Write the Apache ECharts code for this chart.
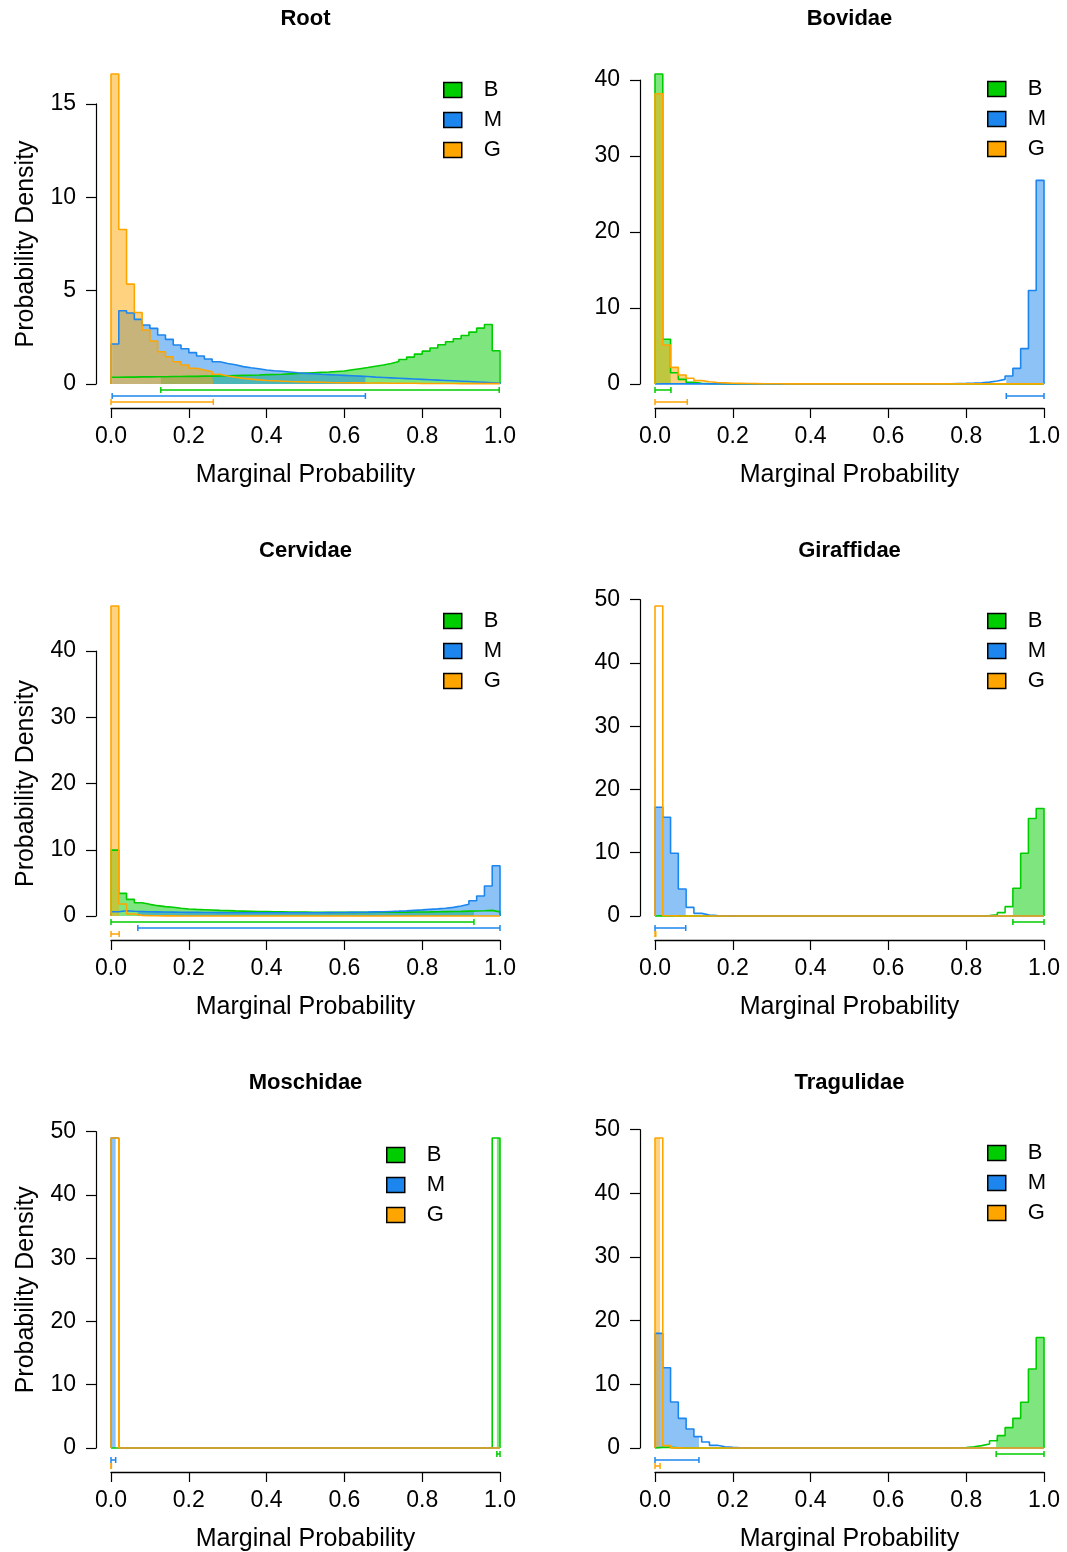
<!DOCTYPE html>
<html><head><meta charset="utf-8">
<script src="https://cdn.jsdelivr.net/npm/echarts@6/dist/echarts.min.js"></script>
<style>html,body{margin:0;padding:0;background:#fff}#c{width:1067px;height:1552px}</style>
</head><body><div id="c"></div>
<script>
// ---------------- DATA ----------------
const panelNames = ['Root', 'Bovidae', 'Cervidae', 'Giraffidae', 'Moschidae', 'Tragulidae'];
const stateNames = ['B', 'M', 'G'];
const binWidth = 0.02;
const yTickMax = [15, 40, 40, 50, 50, 50];
const yTickStep = [5, 10, 10, 10, 10, 10];
const xTickStep = 0.2;

const rootB = [0.36,0.37,0.37,0.38,0.38,0.39,0.39,0.40,0.40,0.41, 0.41,0.42,0.42,0.43,0.44,0.45,0.46,0.47,0.48,0.50, 0.51,0.52,0.54,0.56,0.58,0.60,0.62,0.64,0.67,0.70, 0.76,0.82,0.88,0.95,1.02,1.10,1.20,1.31,1.44,1.60, 1.76,1.93,2.10,2.26,2.42,2.60,2.78,2.99,3.19,1.78];
const rootM = [2.14,3.92,3.80,3.46,3.16,2.98,2.62,2.39,2.09,1.89, 1.68,1.50,1.34,1.19,1.10,1.03,0.93,0.87,0.82,0.75, 0.71,0.68,0.64,0.60,0.57,0.55,0.52,0.50,0.48,0.46, 0.44,0.42,0.40,0.37,0.35,0.33,0.31,0.29,0.27,0.25, 0.23,0.21,0.19,0.17,0.15,0.13,0.11,0.09,0.07,0.05];
const rootG = [16.6,8.27,5.35,3.83,2.89,2.30,1.73,1.46,1.19,1.02, 0.84,0.75,0.66,0.52,0.43,0.36,0.30,0.26,0.22,0.19, 0.17,0.15,0.13,0.12,0.11,0.10,0.09,0.08,0.07,0.07, 0.06,0.06,0.05,0.05,0.05,0.04,0.04,0.04,0.04,0.03, 0.03,0.03,0.03,0.03,0.02,0.02,0.02,0.02,0.02,0.02];
const rootHPD = [[0.128, 0.998], [0.003, 0.654], [0, 0.263]];

const bovB = [40.8,5.88,1.49,0.61,0.22,0.10,0.05,0.03,0.02,0.01, 0.01,0.01,0,0,0,0,0,0,0,0, 0,0,0,0,0,0,0,0,0,0, 0,0,0,0,0,0,0,0,0,0, 0,0,0,0,0,0,0,0,0,0];
const bovM = [0.01,0.01,0.01,0.01,0.01,0.01,0.01,0.01,0.01,0.01, 0.01,0.01,0.01,0.01,0.01,0.01,0.01,0.01,0.01,0.01, 0.01,0.01,0.01,0.01,0.01,0.01,0.01,0.01,0.01,0.01, 0.01,0.01,0.01,0.01,0.01,0.02,0.03,0.04,0.06,0.08, 0.12,0.17,0.25,0.39,0.61,1.05,2.06,4.65,12.3,26.8];
const bovG = [38.2,5.13,2.19,1.18,0.75,0.44,0.30,0.20,0.15,0.10, 0.08,0.06,0.05,0.04,0.03,0.03,0.02,0.02,0.02,0.01, 0.01,0.01,0.01,0.01,0.01,0.01,0.01,0.01,0.01,0.01, 0.01,0.01,0.01,0.01,0.01,0.01,0.01,0.01,0.01,0.01, 0.01,0.01,0.01,0.01,0.01,0.01,0.01,0.01,0.01,0.01];
const bovHPD = [[0, 0.041], [0.903, 1.0], [0, 0.083]];

const cerB = [9.95,3.42,2.51,2.01,1.76,1.56,1.41,1.31,1.16,1.06, 1.00,0.95,0.90,0.85,0.81,0.77,0.74,0.71,0.68,0.66, 0.64,0.62,0.60,0.59,0.58,0.57,0.56,0.55,0.55,0.55, 0.55,0.55,0.55,0.56,0.56,0.57,0.58,0.59,0.60,0.61, 0.62,0.64,0.66,0.68,0.70,0.73,0.76,0.80,0.85,0.62];
const cerM = [0.65,0.80,0.72,0.68,0.64,0.62,0.60,0.58,0.56,0.55, 0.54,0.53,0.52,0.51,0.50,0.50,0.49,0.49,0.48,0.48, 0.48,0.48,0.48,0.48,0.49,0.49,0.50,0.51,0.52,0.53, 0.55,0.57,0.59,0.62,0.65,0.69,0.73,0.78,0.85,0.92, 1.00,1.08,1.18,1.30,1.51,1.76,2.31,3.02,4.52,7.59];
const cerG = [46.8,1.81,0.30,0.10,0.05,0.03,0.02,0.02,0.01,0.01, 0.01,0.01,0.01,0.01,0.01,0.01,0.01,0.01,0.01,0.01, 0.01,0.01,0.01,0.01,0.01,0.01,0.01,0.01,0.01,0.01, 0.01,0.01,0.01,0.01,0.01,0.01,0.01,0.01,0.01,0.01, 0.01,0.01,0.01,0.01,0.01,0.01,0.01,0.01,0.01,0.01];
const cerHPD = [[0, 0.933], [0.069, 1.0], [0, 0.021]];

const girB = [0.05,0.02,0,0,0,0,0,0,0,0, 0,0,0,0,0,0,0,0,0,0, 0,0,0,0,0,0,0,0,0,0, 0,0,0,0,0,0,0,0,0,0, 0,0.02,0.06,0.20,0.53,1.48,4.38,9.92,15.4,17.0];
const girM = [17.2,15.6,9.92,4.27,1.37,0.42,0.16,0.06,0.03,0.02, 0.01,0.01,0,0,0,0,0,0,0,0, 0,0,0,0,0,0,0,0,0,0, 0,0,0,0,0,0,0,0,0,0, 0,0,0,0,0,0,0,0,0,0];
const girG = [49.0,0.05,0.02,0.01,0,0,0,0,0,0, 0,0,0,0,0,0,0,0,0,0, 0,0,0,0,0,0,0,0,0,0, 0,0,0,0,0,0,0,0,0,0, 0,0,0,0,0,0,0,0,0,0];
const girHPD = [[0.92, 1.0], [0, 0.079], [0, 0.002]];

const mosB = [0,0,0,0,0,0,0,0,0,0, 0,0,0,0,0,0,0,0,0,0, 0,0,0,0,0,0,0,0,0,0, 0,0,0,0,0,0,0,0,0,0, 0,0,0,0,0,0,0,0,0,49.0];
const mosM = [49.0,0,0,0,0,0,0,0,0,0, 0,0,0,0,0,0,0,0,0,0, 0,0,0,0,0,0,0,0,0,0, 0,0,0,0,0,0,0,0,0,0, 0,0,0,0,0,0,0,0,0,0];
const mosG = [49.0,0,0,0,0,0,0,0,0,0, 0,0,0,0,0,0,0,0,0,0, 0,0,0,0,0,0,0,0,0,0, 0,0,0,0,0,0,0,0,0,0, 0,0,0,0,0,0,0,0,0,0];
const mosHPD = [[0.992, 1.0], [0, 0.012], [0, 0.001]];

const traB = [0.10,0.10,0.02,0,0,0,0,0,0,0, 0,0,0,0,0,0,0,0,0,0, 0,0,0,0,0,0,0,0,0,0, 0,0,0,0,0,0,0,0.02,0.05,0.08, 0.20,0.37,0.63,1.15,1.94,3.20,4.66,7.18,12.4,17.35];
const traM = [18.0,12.6,7.23,4.66,2.99,1.78,0.94,0.42,0.20,0.10, 0.05,0.02,0.01,0,0,0,0,0,0,0, 0,0,0,0,0,0,0,0,0,0, 0,0,0,0,0,0,0,0,0,0, 0,0,0,0,0,0,0,0,0,0];
const traG = [48.7,0.37,0.02,0,0,0,0,0,0,0, 0,0,0,0,0,0,0,0,0,0, 0,0,0,0,0,0,0,0,0,0, 0,0,0,0,0,0,0,0,0,0, 0,0,0,0,0,0,0,0,0,0];
const traHPD = [[0.877, 1.0], [0, 0.113], [0, 0.013]];

// ---------------- STYLE / LAYOUT ----------------
const lineColors = ['#00CD00', '#1C86EE', '#FFA500'];
const fillColors = ['rgba(0,205,0,0.5)', 'rgba(28,134,238,0.5)', 'rgba(255,165,0,0.5)'];
const FONT = '"Liberation Sans", Arial, Helvetica, sans-serif';

const panelData = [
  [rootB, rootM, rootG, rootHPD],
  [bovB, bovM, bovG, bovHPD],
  [cerB, cerM, cerG, cerHPD],
  [girB, girM, girG, girHPD],
  [mosB, mosM, mosG, mosHPD],
  [traB, traM, traG, traHPD]
];
const colLeft = [111, 655];
const plotWidth = 389;
const rowBase = [384, 916, 1448];
const dataSpanPx = 310;
const legendPos = [[443, 79], [987, 78], [443, 610], [987, 610], [386, 1144], [987, 1142]];

function stepPoints(vals, lo, hi) {
  const n = vals.length;
  const pts = [[lo, 0]];
  const i0 = Math.min(Math.floor(lo / binWidth + 1e-9), n - 1);
  pts.push([lo, vals[i0]]);
  for (let k = i0 + 1; k < n; k++) {
    const e = +(k * binWidth).toFixed(6);
    if (e >= hi - 1e-9) break;
    pts.push([e, vals[k - 1]]);
    pts.push([e, vals[k]]);
  }
  const i1 = Math.max(0, Math.min(Math.floor(hi / binWidth - 1e-9), n - 1));
  pts.push([hi, vals[i1]]);
  pts.push([hi, 0]);
  return pts;
}

const grids = [], xAxes = [], yAxes = [], series = [], titles = [], legends = [];
panelNames.forEach((name, p) => {
  const col = p % 2, row = Math.floor(p / 2);
  const [B, M, G, hpd] = panelData[p];
  const arrs = [B, M, G];
  const dataMax = Math.max(...B, ...M, ...G);
  const h = dataSpanPx * yTickMax[p] / dataMax;
  const base = rowBase[row];
  grids.push({left: colLeft[col], width: plotWidth, top: base - h, height: h, containLabel: false, outerBoundsMode: 'none'});
  xAxes.push({
    gridIndex: p, type: 'value', min: 0, max: 1, interval: xTickStep, offset: 24, position: 'bottom',
    axisLine: {show: true, onZero: false, lineStyle: {color: '#000', width: 1.3}},
    axisTick: {show: true, length: 10, lineStyle: {color: '#000', width: 1.2}},
    axisLabel: {show: true, showMinLabel: true, showMaxLabel: true, margin: 17, fontSize: 23, color: '#000', fontFamily: FONT,
      formatter: v => v.toFixed(1)},
    splitLine: {show: false},
    name: 'Marginal Probability', nameLocation: 'middle', nameGap: 55,
    nameTextStyle: {fontSize: 25, color: '#000', fontFamily: FONT}
  });
  yAxes.push({
    gridIndex: p, type: 'value', min: 0, max: yTickMax[p], interval: yTickStep[p], offset: 15,
    axisLine: {show: true, onZero: false, lineStyle: {color: '#000', width: 1.2}},
    axisTick: {show: true, length: 10, lineStyle: {color: '#000', width: 1.2}},
    axisLabel: {show: true, showMinLabel: true, showMaxLabel: true, margin: 20, fontSize: 23, color: '#000', fontFamily: FONT},
    splitLine: {show: false},
    name: col === 0 ? 'Probability Density' : '', nameLocation: 'middle', nameGap: 57, nameRotate: 90,
    nameTextStyle: {fontSize: 25, color: '#000', fontFamily: FONT}
  });
  // fills (clipped to HPD interval)
  arrs.forEach((vals, k) => {
    series.push({
      name: stateNames[k], type: 'line', xAxisIndex: p, yAxisIndex: p, z: 1,
      data: stepPoints(vals, hpd[k][0], hpd[k][1]), symbol: 'none', showSymbol: false, clip: false, silent: true,
      lineStyle: {width: 0, color: lineColors[k]}, itemStyle: {color: lineColors[k]},
      areaStyle: {color: fillColors[k], opacity: 1}, emphasis: {disabled: true}
    });
  });
  // outlines
  arrs.forEach((vals, k) => {
    series.push({
      name: stateNames[k], type: 'line', xAxisIndex: p, yAxisIndex: p, z: 2,
      data: stepPoints(vals, 0, 1), symbol: 'none', showSymbol: false, clip: false, silent: true,
      lineStyle: {width: 1.6, color: lineColors[k]}, itemStyle: {color: lineColors[k]}, emphasis: {disabled: true}
    });
  });
  // HPD intervals
  series.push({
    type: 'custom', xAxisIndex: p, yAxisIndex: p, z: 3, clip: false, silent: true,
    dimensions: ['lo', 'hi', 'k'], encode: {x: [0, 1], y: 2},
    data: hpd.map((r, k) => [r[0], r[1], k]),
    renderItem: (params, api) => {
      const lo = api.value(0), hi = api.value(1), k = api.value(2);
      const a = api.coord([lo, 0]), b = api.coord([hi, 0]);
      const y = a[1] + 6 * (k + 1);
      const st = {stroke: lineColors[k], lineWidth: 1.5, fill: null};
      return {type: 'group', children: [
        {type: 'line', shape: {x1: a[0], y1: y, x2: b[0], y2: y}, style: st},
        {type: 'line', shape: {x1: a[0], y1: y - 3, x2: a[0], y2: y + 3}, style: st},
        {type: 'line', shape: {x1: b[0], y1: y - 3, x2: b[0], y2: y + 3}, style: st}
      ]};
    }
  });
  titles.push({
    text: name, left: colLeft[col] + plotWidth / 2, top: rowBase[row] - 376, textAlign: 'center', padding: 0,
    textStyle: {fontSize: 22, fontWeight: 'bold', color: '#000', fontFamily: FONT}
  });
  legends.push({
    orient: 'vertical', left: legendPos[p][0], top: legendPos[p][1], padding: 0,
    itemWidth: 18, itemHeight: 15, itemGap: 8, icon: 'rect', selectedMode: false,
    textStyle: {fontSize: 22, color: '#000', fontFamily: FONT, padding: [0, 0, 0, 17]},
    data: stateNames.map((s, k) => ({name: s, icon: 'rect',
      itemStyle: {color: lineColors[k], borderColor: '#000', borderWidth: 1.5, opacity: 1}}))
  });
});

const chart = echarts.init(document.getElementById('c'), null, {renderer: 'canvas'});
chart.setOption({
  animation: false,
  backgroundColor: '#fff',
  textStyle: {fontFamily: FONT},
  title: titles,
  legend: legends,
  grid: grids,
  xAxis: xAxes,
  yAxis: yAxes,
  series: series,
  tooltip: {show: false}
});
</script></body></html>
